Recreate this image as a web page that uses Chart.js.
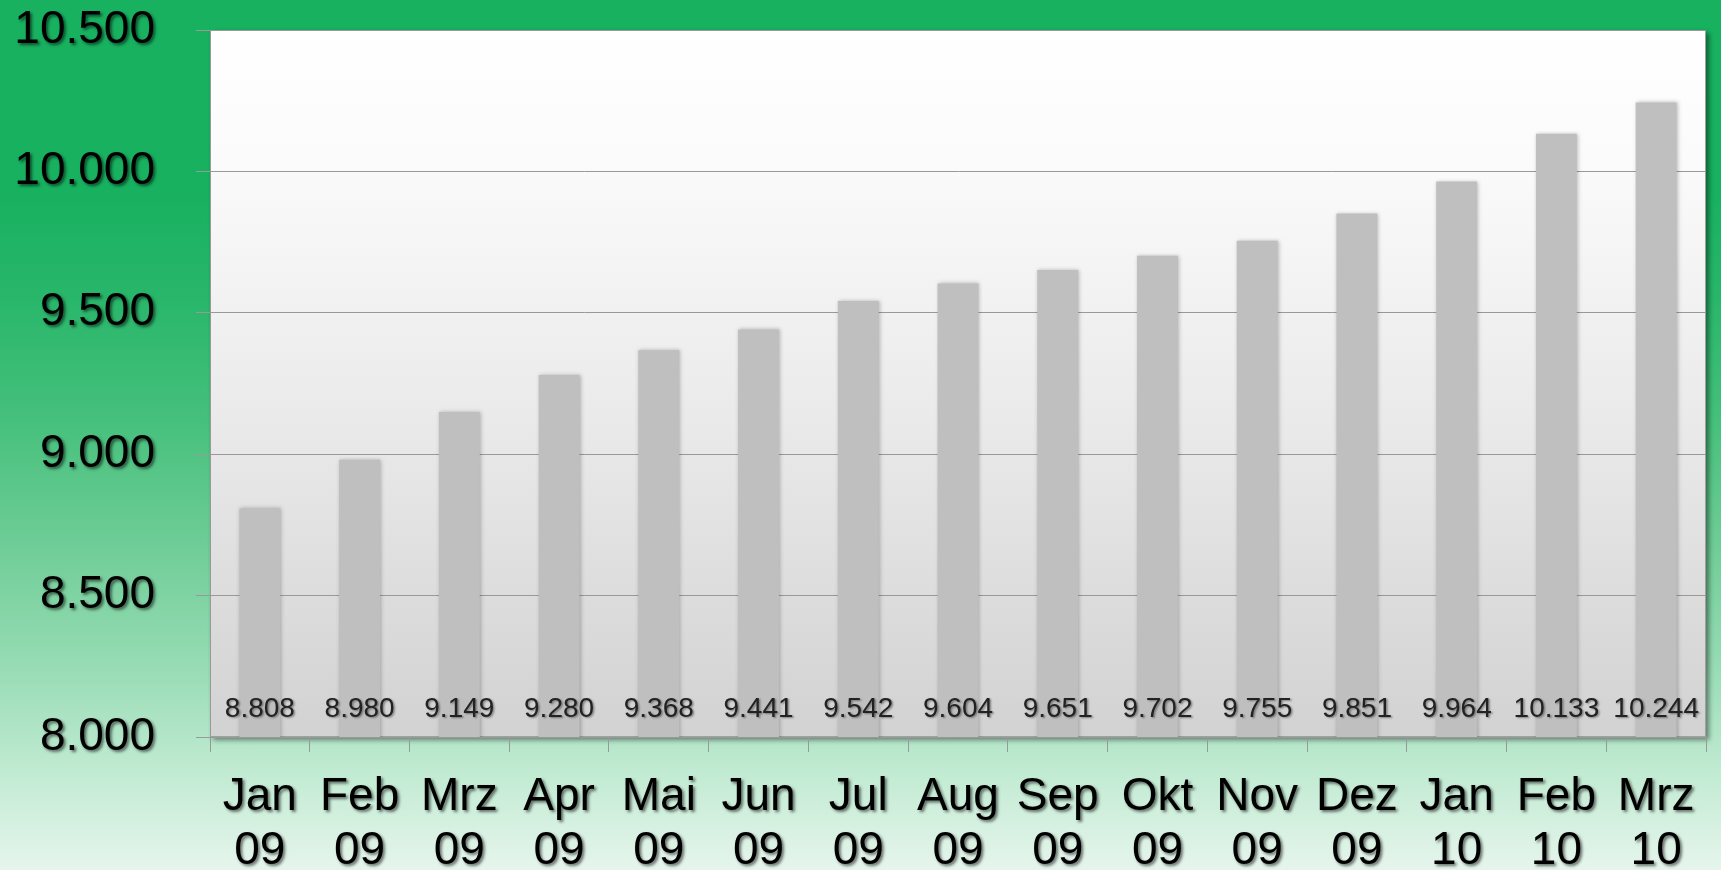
<!DOCTYPE html>
<html><head><meta charset="utf-8">
<script src="https://cdn.jsdelivr.net/npm/chart.js@4.4.0/dist/chart.umd.min.js"></script>
<style>
html,body{margin:0;padding:0;width:1721px;height:870px;overflow:hidden;}
body{background:linear-gradient(to bottom,#18b160 0%,#18b160 22%,#28b66a 34%,#45c07c 48%,#6dcc95 62%,#95dbb3 76%,#c2ebd3 89%,#e6f5ec 100%);}
canvas{display:block;}
</style></head><body>
<canvas id="c" width="1721" height="870"></canvas>
<script>
const months = ["Jan","Feb","Mrz","Apr","Mai","Jun","Jul","Aug","Sep","Okt","Nov","Dez","Jan","Feb","Mrz"];
const years  = ["09","09","09","09","09","09","09","09","09","09","09","09","10","10","10"];
const values = [8808,8980,9149,9280,9368,9441,9542,9604,9651,9702,9755,9851,9964,10133,10244];
const yMin = 8000, yMax = 10500, yStep = 500;

const FONT = "'Liberation Sans', Arial, sans-serif";
const fmt = v => String(v).replace(/\B(?=(\d{3})+(?!\d))/g, '.');

const plotBg = {
  id: 'plotBg',
  beforeDraw(chart) {
    const {ctx, chartArea: a} = chart;
    ctx.save();
    ctx.shadowColor = 'rgba(0,0,0,0.45)';
    ctx.shadowBlur = 5;
    ctx.shadowOffsetX = 3;
    ctx.shadowOffsetY = 3;
    const g = ctx.createLinearGradient(0, a.top, 0, a.bottom);
    g.addColorStop(0, '#ffffff');
    g.addColorStop(0.18, '#fbfbfb');
    g.addColorStop(0.55, '#eaeaea');
    g.addColorStop(1, '#d2d2d2');
    ctx.fillStyle = g;
    ctx.fillRect(a.left, a.top, a.right - a.left, a.bottom - a.top);
    ctx.restore();
    ctx.save();
    ctx.strokeStyle = '#a0a0a0';
    ctx.lineWidth = 1;
    ctx.strokeRect(a.left + 0.5, a.top + 0.5, a.right - a.left - 1, a.bottom - a.top - 1);
    ctx.restore();
  }
};

const effects = {
  id: 'effects',
  beforeDatasetsDraw(chart) {
    const ctx = chart.ctx;
    ctx.save();
    ctx.shadowColor = 'rgba(0,0,0,0.25)';
    ctx.shadowBlur = 4;
    ctx.shadowOffsetX = 1;
    ctx.shadowOffsetY = 0;
  },
  afterDatasetsDraw(chart) {
    const ctx = chart.ctx;
    ctx.restore();
    const meta = chart.getDatasetMeta(0);
    const a = chart.chartArea;
    ctx.save();
    ctx.font = '28px ' + FONT;
    ctx.fillStyle = '#222222';
    ctx.textAlign = 'center';
    ctx.textBaseline = 'middle';
    ctx.shadowColor = 'rgba(0,0,0,0.4)';
    ctx.shadowBlur = 2;
    ctx.shadowOffsetX = 1.5;
    ctx.shadowOffsetY = 1.5;
    meta.data.forEach((bar, i) => {
      ctx.fillText(fmt(values[i]), bar.x, a.bottom - 28);
    });
    ctx.restore();
    ctx.shadowColor = 'rgba(0,0,0,0.55)';
    ctx.shadowBlur = 3;
    ctx.shadowOffsetX = 2;
    ctx.shadowOffsetY = 2;
  },
  afterDraw(chart) {
    const ctx = chart.ctx;
    ctx.shadowColor = 'rgba(0,0,0,0)';
    ctx.shadowBlur = 0;
    ctx.shadowOffsetX = 0;
    ctx.shadowOffsetY = 0;
  }
};

new Chart(document.getElementById('c'), {
  type: 'bar',
  data: {
    labels: months.map((m, i) => [m, years[i]]),
    datasets: [{
      data: values,
      backgroundColor: '#bfbfbf',
      borderWidth: 0,
      categoryPercentage: 1,
      barPercentage: 0.41
    }]
  },
  options: {
    responsive: false,
    devicePixelRatio: 1,
    animation: false,
    layout: {padding: {top: 30, right: 15, left: 0, bottom: 0}},
    plugins: {legend: {display: false}, tooltip: {enabled: false}},
    scales: {
      x: {
        afterFit(s) { s.height = 133; s.paddingLeft = 0; s.paddingRight = 0; },
        grid: {offset: true, drawOnChartArea: false, tickLength: 15, color: '#999999'},
        border: {color: '#999999'},
        ticks: {
          z: 1,
          color: '#000000',
          font: {family: FONT, size: 46, lineHeight: 1.18},
          padding: 18,
          maxRotation: 0,
          autoSkip: false
        }
      },
      y: {
        min: yMin, max: yMax,
        afterFit(s) { s.width = 210; s.paddingTop = 0; s.paddingBottom = 0; },
        grid: {color: '#999999', tickLength: 14},
        border: {color: '#999999'},
        ticks: {
          z: 1,
          stepSize: yStep,
          color: '#000000',
          font: {family: FONT, size: 46},
          padding: 41,
          callback: v => fmt(v)
        }
      }
    }
  },
  plugins: [plotBg, effects]
});
</script>
</body></html>
